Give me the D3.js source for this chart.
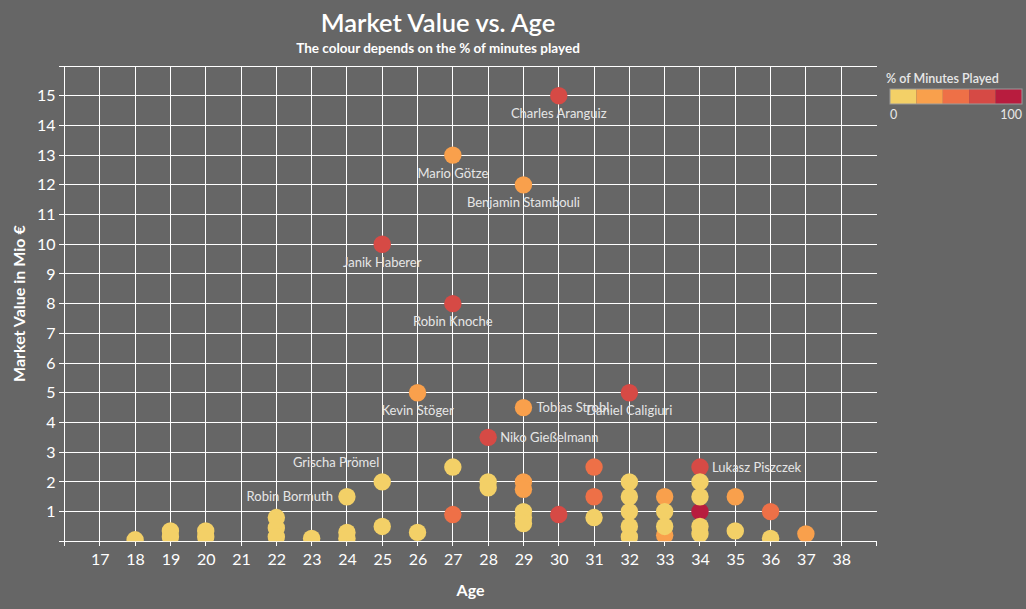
<!DOCTYPE html>
<html>
<head>
<meta charset="utf-8">
<script src="https://cdn.jsdelivr.net/npm/d3@7/dist/d3.min.js"></script>
<style>
  html, body { margin: 0; padding: 0; background: #666666; }
  svg { display: block; }
  text { font-family: Lato, "Open Sans", sans-serif; }
</style>
</head>
<body>
<svg id="chart" width="1026" height="609"></svg>
<script>
// ---------- DATA ----------
const ages = [30, 27, 29, 25, 27, 26, 29, 32, 28, 25, 24, 34,
  18, 19, 19, 20, 20, 22, 22, 22, 23, 24, 24, 25, 26,
  27, 27, 28, 28, 29, 29, 29, 29, 29, 30,
  31, 31, 31, 32, 32, 32, 32, 32,
  33, 33, 33, 33, 34, 34, 34, 34, 34, 35, 35, 36, 36, 37];
const marketValues = [15, 13, 12, 10, 8, 5, 4.5, 5, 3.5, 2, 1.5, 2.5,
  0.05, 0.35, 0.15, 0.35, 0.15, 0.8, 0.45, 0.15, 0.1, 0.3, 0.1, 0.5, 0.3,
  2.5, 0.9, 2.0, 1.8, 2.0, 1.75, 1.0, 0.8, 0.6, 0.9,
  2.5, 1.5, 0.8, 2.0, 1.5, 1.0, 0.5, 0.15,
  1.5, 1.0, 0.5, 0.2, 2.0, 1.5, 1.0, 0.5, 0.25, 1.5, 0.35, 1.0, 0.1, 0.25];
const minutesPlayedPct = [70, 30, 30, 70, 70, 30, 30, 70, 70, 10, 10, 70,
  10, 10, 10, 10, 10, 10, 10, 10, 10, 10, 10, 10, 10,
  10, 50, 10, 10, 30, 30, 10, 10, 10, 70,
  50, 50, 10, 10, 10, 10, 10, 10,
  30, 10, 10, 30, 10, 10, 90, 10, 10, 30, 10, 50, 10, 30];
const playerNames = ["Charles Aranguiz", "Mario Götze", "Benjamin Stambouli", "Janik Haberer",
  "Robin Knoche", "Kevin Stöger", "Tobias Strobl", "Daniel Caligiuri", "Niko Gießelmann",
  "Grischa Prömel", "Robin Bormuth", "Lukasz Piszczek"];
const xTickLabels = [17, 18, 19, 20, 21, 22, 23, 24, 25, 26, 27, 28, 29, 30, 31, 32, 33, 34, 35, 36, 37, 38];
const yTickLabels = [1, 2, 3, 4, 5, 6, 7, 8, 9, 10, 11, 12, 13, 14, 15];
const legendColors = ["#F3D067", "#F9A04C", "#EE7047", "#D64A45", "#B81C3E"];
const legendTickLabels = ["0", "100"];

(function () {
// ---------- LAYOUT ----------
const W = 1026, H = 609;
const pLeft = 64.5, pRight = 876.5, pTop = 66, pBottom = 541.3;
const svg = d3.select("#chart");
svg.append("rect").attr("width", W).attr("height", H).attr("fill", "#666666");

const x = d3.scaleLinear().domain([16, 39]).range([pLeft, pRight]);
const y = d3.scaleLinear().domain([0, 16]).range([pBottom, pTop]);
const color = d3.scaleQuantize().domain([0, 100]).range(legendColors);

const points = ages.map((a, i) => ({
  age: a, value: marketValues[i], pct: minutesPlayedPct[i], name: playerNames[i] || ""
}));

// ---------- GRID ----------
const grid = svg.append("g").attr("stroke", "#ffffff").attr("stroke-width", 1).attr("shape-rendering", "crispEdges");
grid.selectAll("line.h").data(d3.range(0, 17)).join("line").attr("class", "h")
  .attr("x1", pLeft - 6).attr("x2", pRight)
  .attr("y1", d => y(d)).attr("y2", d => y(d));
grid.selectAll("line.v").data(d3.range(16, 39)).join("line").attr("class", "v")
  .attr("x1", d => x(d)).attr("x2", d => x(d))
  .attr("y1", pTop).attr("y2", pBottom + 5);
grid.append("line").attr("x1", pRight).attr("x2", pRight).attr("y1", pBottom).attr("y2", pBottom + 5);

// ---------- AXES LABELS ----------
const xAxis = d3.axisBottom(x).tickValues(xTickLabels).tickSize(0).tickPadding(12).tickFormat(d3.format("d"));
const gx = svg.append("g").attr("transform", `translate(0,${pBottom})`).call(xAxis);
gx.select(".domain").remove();
gx.selectAll("text").attr("fill", "#ffffff").attr("font-size", 16).attr("font-family", "Lato, sans-serif");

const yAxis = d3.axisLeft(y).tickValues(yTickLabels).tickSize(0).tickPadding(9).tickFormat(d3.format("d"));
const gy = svg.append("g").attr("transform", `translate(${pLeft},0)`).call(yAxis);
gy.select(".domain").remove();
gy.selectAll("text").attr("fill", "#ffffff").attr("font-size", 16).attr("font-family", "Lato, sans-serif");

svg.append("text").attr("x", (pLeft + pRight) / 2).attr("y", 596)
  .attr("text-anchor", "middle").attr("fill", "#ffffff")
  .attr("font-size", 16).attr("font-weight", 700).text("Age");

svg.append("text").attr("transform", `translate(25,${(pTop + pBottom) / 2}) rotate(-90)`)
  .attr("text-anchor", "middle").attr("fill", "#ffffff")
  .attr("font-size", 16).attr("font-weight", 700).text("Market Value in Mio €");

// ---------- TITLE ----------
svg.append("text").attr("x", 438).attr("y", 32).attr("text-anchor", "middle")
  .attr("fill", "#ffffff").attr("font-size", 25.5).attr("font-weight", 600)
  .attr("font-family", "'Open Sans', sans-serif").text("Market Value vs. Age");
svg.append("text").attr("x", 438).attr("y", 53).attr("text-anchor", "middle")
  .attr("fill", "#ffffff").attr("font-size", 13.5).attr("font-weight", 700)
  .text("The colour depends on the % of minutes played");

// ---------- MARKS ----------
svg.append("clipPath").attr("id", "plotClip").append("rect")
  .attr("x", pLeft).attr("y", pTop).attr("width", pRight - pLeft).attr("height", pBottom - pTop);

const order = points.slice().sort((a, b) => b.pct - a.pct);
svg.append("g").attr("clip-path", "url(#plotClip)")
  .selectAll("circle").data(order).join("circle")
  .attr("cx", d => x(d.age)).attr("cy", d => y(d.value)).attr("r", 8.7)
  .attr("fill", d => color(d.pct));

// ---------- POINT LABELS ----------
const placement = {
  "Tobias Strobl": {dx: 13, dy: 4.5, anchor: "start"},
  "Niko Gießelmann": {dx: 12, dy: 4.5, anchor: "start"},
  "Lukasz Piszczek": {dx: 12, dy: 4.5, anchor: "start"},
  "Robin Bormuth": {dx: -14, dy: 4.5, anchor: "end"},
  "Grischa Prömel": {dx: -3, dy: -15, anchor: "end"}
};
const defaultPlacement = {dx: 0, dy: 22.5, anchor: "middle"};
svg.append("g").selectAll("text").data(points.filter(d => d.name)).join("text")
  .attr("x", d => x(d.age) + (placement[d.name] || defaultPlacement).dx)
  .attr("y", d => y(d.value) + (placement[d.name] || defaultPlacement).dy)
  .attr("text-anchor", d => (placement[d.name] || defaultPlacement).anchor)
  .attr("fill", "#e6e6e6").attr("font-size", 13)
  .text(d => d.name);

// ---------- LEGEND ----------
const lg = svg.append("g");
const lx0 = 890, lx1 = 1022, ly = 89, lh = 15;
lg.append("text").attr("x", 886).attr("y", 83).attr("fill", "#e8e8e8")
  .attr("font-size", 12.5).attr("font-weight", 600).text("% of Minutes Played");
const lScale = d3.scaleLinear().domain([0, legendColors.length]).range([lx0, lx1]);
lg.selectAll("rect").data(legendColors).join("rect")
  .attr("x", (d, i) => lScale(i)).attr("y", ly)
  .attr("width", (lx1 - lx0) / legendColors.length).attr("height", lh)
  .attr("fill", d => d);
lg.append("rect").attr("x", lx0).attr("y", ly).attr("width", lx1 - lx0).attr("height", lh)
  .attr("fill", "none").attr("stroke", "#9a9a9a").attr("stroke-width", 1);
lg.append("text").attr("x", lx0).attr("y", 119).attr("fill", "#e8e8e8").attr("font-size", 12.5)
  .text(legendTickLabels[0]);
lg.append("text").attr("x", lx1).attr("y", 119).attr("text-anchor", "end").attr("fill", "#e8e8e8").attr("font-size", 12.5)
  .text(legendTickLabels[1]);
})();
</script>
</body>
</html>
